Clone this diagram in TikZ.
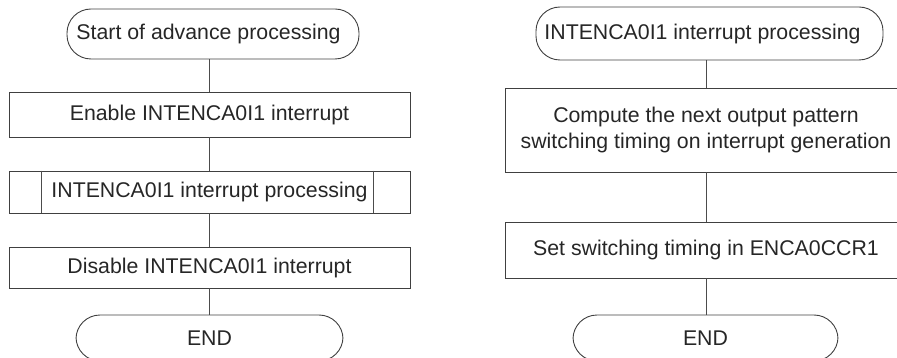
\documentclass[tikz,border=0pt]{standalone}
\usepackage{fontspec}
\setmainfont{Liberation Sans}
\begin{document}
\begin{tikzpicture}[x=1pt,y=-1pt,
  every node/.style={font=\fontsize{21.3}{26}\selectfont, text=black!85, inner sep=0pt, align=center},
  term/.style={draw=black!75, line width=0.9pt, rounded corners=24pt, minimum height=#1},
  term/.default=50pt,
  procbox/.style={draw=black!75, line width=0.9pt, minimum width=401pt},
  link/.style={draw=black!70, line width=0.9pt}]
\useasboundingbox (0,0) rectangle (897,358);
\clip (0,0) rectangle (897,358);
% left column
\node[term=50pt, minimum width=292pt] (ls) at (213,34) {\hspace*{-9pt}Start of advance processing};
\node[procbox, minimum height=45pt] (le) at (209.5,114.5) {Enable INTENCA0I1 interrupt};
\node[procbox, minimum height=42pt] (lp) at (209.5,192) {INTENCA0I1 interrupt processing};
\node[procbox, minimum height=41pt] (ld) at (209.5,267.5) {Disable INTENCA0I1 interrupt};
\node[term=46pt, minimum width=267pt] (lend) at (209.5,338) {END};
\draw[link] ([xshift=33pt]lp.north west) -- ([xshift=33pt]lp.south west);
\draw[link] ([xshift=-37pt]lp.north east) -- ([xshift=-37pt]lp.south east);
\draw[link] (ls.south -| le.north) -- (le.north);
\draw[link] (le) -- (lp);
\draw[link] (lp) -- (ld);
\draw[link] (ld) -- (lend);
% right column
\node[term=53pt, minimum width=347pt] (rs) at (709.5,33.5) {\hspace*{-14pt}INTENCA0I1 interrupt processing};
\node[procbox, minimum height=84pt] (rc) at (706,130) {Compute the next output pattern\\switching timing on interrupt generation};
\node[procbox, minimum height=56pt] (rt) at (706,250) {Set switching timing in ENCA0CCR1};
\node[term=46pt, minimum width=265pt] (rend) at (705.5,338) {END};
\draw[link] (rs.south -| rc.north) -- (rc.north);
\draw[link] (rc) -- (rt);
\draw[link] (rt) -- (rend.north -| rt.south);
\end{tikzpicture}
\end{document}
